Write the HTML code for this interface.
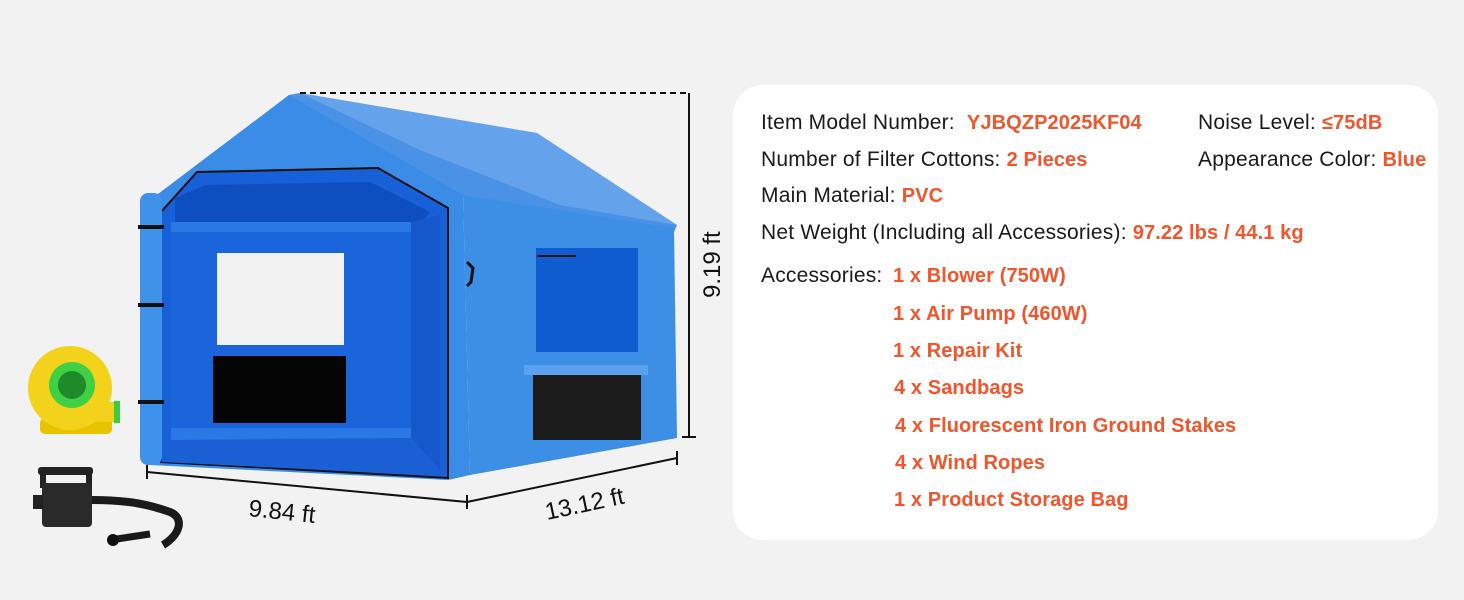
<!DOCTYPE html>
<html><head><meta charset="utf-8"><style>
body{margin:0;width:1464px;height:600px;background:#f2f2f2;overflow:hidden;position:relative;font-family:"Liberation Sans",sans-serif}
.card{position:absolute;left:733px;top:85px;width:705px;height:455px;background:#fff;border-radius:30px}
.t{position:absolute;font-size:21px;color:#1a1a1a;letter-spacing:0.2px;white-space:nowrap;line-height:24px}
.o{color:#f0552c;font-weight:bold;letter-spacing:0.1px;font-size:20px}
</style></head><body>
<svg width="1464" height="600" style="position:absolute;left:0;top:0">
<polygon points="158,195 289,95 300,93 537,133 677,225 674,232 467,200 463,195" fill="#4a92e6"/>
<polygon points="300,93 537,133 677,225 560,205 420,150" fill="#7db4f0" opacity="0.5"/>
<polygon points="463,195 674,228 677,438 470,475" fill="#3d8fe6"/>
<rect x="536" y="248" width="102" height="104" fill="#0f5bd0"/>
<line x1="537" y1="256" x2="576" y2="256" stroke="#111" stroke-width="2"/>
<rect x="524" y="365" width="124" height="10" fill="#5aa2ee"/>
<rect x="533" y="375" width="108" height="65" fill="#1b1b1b"/>
<polygon points="150,200 289,95 463,195 470,475 448,480 150,465" fill="#3a8ce6"/>
<polygon points="161,212 197,172 378,168 448,208 448,478 161,462" fill="#1860d8" stroke="#111" stroke-width="2"/>
<polygon points="175,198 205,185 370,182 430,212 415,232 175,232" fill="#0d4fc0"/>
<rect x="171" y="222" width="240" height="216" fill="#1a64dc"/>
<rect x="171" y="222" width="240" height="10" fill="#2a78e6"/>
<rect x="171" y="428" width="240" height="12" fill="#2a78e6"/>
<polygon points="411,222 440,215 440,470 411,438" fill="#1458cc"/>
<polygon points="171,440 411,438 446,476 161,462" fill="#1a5fd4"/>
<rect x="217" y="253" width="127" height="92" fill="#f2f2f2"/>
<rect x="213" y="356" width="133" height="67" fill="#050505"/>
<rect x="140" y="193" width="22" height="272" rx="8" fill="#3f92ea"/>
<rect x="138" y="225" width="26" height="4" fill="#111"/>
<rect x="138" y="303" width="26" height="4" fill="#111"/>
<rect x="138" y="400" width="26" height="4" fill="#111"/>
<path d="M467,262 l6,6 l-2,14 l-4,4" fill="none" stroke="#111" stroke-width="3"/>
<line x1="300" y1="93" x2="690" y2="93" stroke="#111" stroke-width="2" stroke-dasharray="6,4"/>
<line x1="689" y1="93" x2="689" y2="437" stroke="#111" stroke-width="2"/>
<line x1="682" y1="437" x2="696" y2="437" stroke="#111" stroke-width="2"/>
<line x1="147" y1="472" x2="467" y2="502" stroke="#111" stroke-width="2"/>
<line x1="467" y1="502" x2="677" y2="458" stroke="#111" stroke-width="2"/>
<line x1="147" y1="465" x2="147" y2="479" stroke="#111" stroke-width="2"/>
<line x1="467" y1="495" x2="467" y2="509" stroke="#111" stroke-width="2"/>
<line x1="677" y1="451" x2="677" y2="465" stroke="#111" stroke-width="2"/>
<text font-family="Liberation Sans" font-size="24" fill="#111" transform="translate(720,298) rotate(-90)">9.19 ft</text>
<text font-family="Liberation Sans" font-size="24" fill="#111" transform="translate(248,516) rotate(6)">9.84 ft</text>
<text font-family="Liberation Sans" font-size="24" fill="#111" transform="translate(547,520) rotate(-12)">13.12 ft</text>
<rect x="40" y="418" width="72" height="16" rx="5" fill="#e8c400"/>
<circle cx="70" cy="388" r="42" fill="#f2d21a"/>
<rect x="95" y="402" width="22" height="20" fill="#f2d21a"/>
<rect x="114" y="401" width="6" height="22" fill="#3ccb3c"/>
<circle cx="72" cy="385" r="23" fill="#3fd046"/>
<circle cx="72" cy="385" r="14" fill="#1f8a2a"/>
<rect x="38" y="467" width="55" height="8" rx="3" fill="#222"/>
<rect x="40" y="470" width="6" height="18" fill="#222"/><rect x="86" y="470" width="6" height="18" fill="#222"/>
<rect x="42" y="483" width="50" height="44" rx="4" fill="#2a2a2a"/>
<rect x="33" y="495" width="10" height="14" fill="#222"/>
<path d="M92,500 C130,500 150,505 170,512 C185,518 180,535 163,545" fill="none" stroke="#1a1a1a" stroke-width="8"/>
<path d="M110,540 l40,-6" fill="none" stroke="#1a1a1a" stroke-width="7"/>
<circle cx="113" cy="540" r="6" fill="#111"/>
</svg>
<div class="card"></div>
<div class="t" style="left:761px;top:111px">Item Model Number:&nbsp; <span class="o">YJBQZP2025KF04</span></div>
<div class="t" style="left:1198px;top:111px">Noise Level: <span class="o">≤75dB</span></div>
<div class="t" style="left:761px;top:148px">Number of Filter Cottons: <span class="o">2 Pieces</span></div>
<div class="t" style="left:1198px;top:148px">Appearance Color: <span class="o">Blue</span></div>
<div class="t" style="left:761px;top:184px">Main Material: <span class="o">PVC</span></div>
<div class="t" style="left:761px;top:221px">Net Weight (Including all Accessories): <span class="o">97.22 lbs / 44.1 kg</span></div>
<div class="t" style="left:761px;top:264px">Accessories:</div>
<div class="t o" style="left:893px;top:264px">1 x Blower (750W)</div>
<div class="t o" style="left:893px;top:302px">1 x Air Pump (460W)</div>
<div class="t o" style="left:893px;top:339px">1 x Repair Kit</div>
<div class="t o" style="left:894px;top:376px">4 x Sandbags</div>
<div class="t o" style="left:895px;top:414px">4 x Fluorescent Iron Ground Stakes</div>
<div class="t o" style="left:895px;top:451px">4 x Wind Ropes</div>
<div class="t o" style="left:894px;top:488px">1 x Product Storage Bag</div>
</body></html>
